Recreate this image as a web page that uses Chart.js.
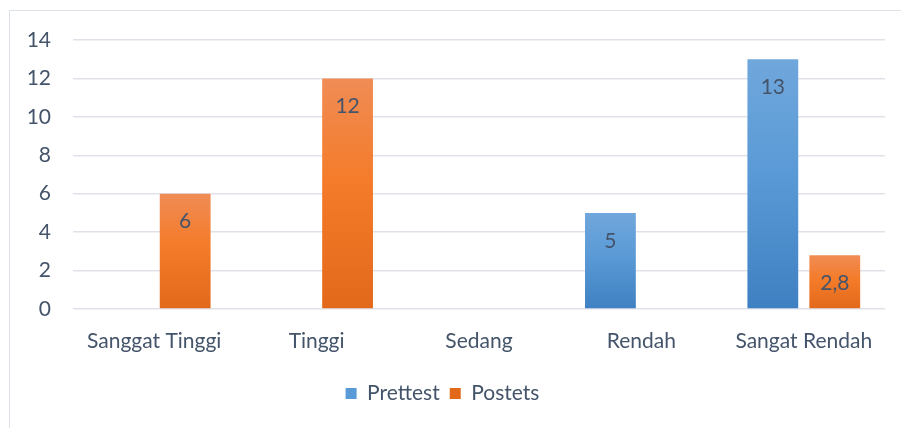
<!DOCTYPE html>
<html>
<head>
<meta charset="utf-8">
<script src="https://cdn.jsdelivr.net/npm/chart.js@4/dist/chart.umd.min.js"></script>
<style>
  body { margin: 0; background: #fff; }
  #wrap { position: relative; width: 901px; height: 428px; overflow: hidden; }
  #frame { position: absolute; left: 9px; top: 10px; width: 900px; height: 430px; border: 1px solid #dde2e8; box-sizing: border-box; }
  #myChart { position: absolute; left: 0; top: 0; }
</style>
</head>
<body>
<div id="wrap">
  <div id="frame"></div>
  <canvas id="myChart" width="901" height="428"></canvas>
</div>
<script>
var categories = ['Sanggat Tinggi', 'Tinggi', 'Sedang', 'Rendah', 'Sangat Rendah'];
var prettest = [0, 0, 0, 5, 13];
var postets = [6, 12, 0, 0, 2.8];
var yTicks = [0, 2, 4, 6, 8, 10, 12, 14];

var textColor = '#44546a';
var fontFamily = 'Lato, "Open Sans", sans-serif';
var fontSize = 21;

function barGradient(stops) {
    return function (context) {
        var chart = context.chart;
        var area = chart.chartArea;
        if (!area || context.type !== 'data') return stops[1];
        var v = context.raw || 0;
        var yScale = chart.scales.y;
        var top = yScale.getPixelForValue(v);
        var bottom = yScale.getPixelForValue(0);
        if (bottom - top < 1) return stops[1];
        var g = chart.ctx.createLinearGradient(0, top, 0, bottom);
        g.addColorStop(0, stops[0]);
        g.addColorStop(0.45, stops[1]);
        g.addColorStop(1, stops[2]);
        return g;
    };
}

// labels inside the top of each bar, like Excel
var barLabels = {
    id: 'barLabels',
    afterDatasetsDraw: function (chart) {
        var ctx = chart.ctx;
        ctx.save();
        ctx.font = fontSize + 'px ' + fontFamily;
        ctx.fillStyle = textColor;
        ctx.textAlign = 'center';
        ctx.textBaseline = 'middle';
        chart.data.datasets.forEach(function (ds, i) {
            var meta = chart.getDatasetMeta(i);
            meta.data.forEach(function (bar, j) {
                var v = ds.data[j];
                if (!v) return;
                ctx.fillText(String(v).replace('.', ','), bar.x, bar.y + 28);
            });
        });
        ctx.restore();
    }
};

const ctx = document.getElementById('myChart');

new Chart(ctx, {
    type: 'bar',
    data: {
        labels: categories,
        datasets: [{
            label: 'Prettest',
            data: prettest,
            backgroundColor: barGradient(['#70a7dc', '#5a9ad6', '#3f80c2']),
            borderWidth: 0
        }, {
            label: 'Postets',
            data: postets,
            backgroundColor: barGradient(['#f08c55', '#f47b29', '#e2691a']),
            borderWidth: 0
        }]
    },
    options: {
        responsive: false,
        animation: false,
        categoryPercentage: 0.763,
        barPercentage: 0.82,
        layout: { padding: { left: 0, right: 16, top: 40, bottom: 14 } },
        scales: {
            x: {
                grid: { display: false },
                border: { display: false },
                ticks: { color: textColor, font: { family: fontFamily, size: fontSize }, padding: 12, maxRotation: 0 },
                afterFit: function (scale) { scale.height = 64; }
            },
            y: {
                min: 0,
                max: 14,
                afterBuildTicks: function (scale) {
                    scale.ticks = yTicks.map(function (v) { return { value: v }; });
                },
                grid: { color: '#dfe3e9', lineWidth: 1.5, drawTicks: false },
                border: { display: false },
                ticks: { color: textColor, font: { family: fontFamily, size: fontSize }, padding: 22 },
                afterFit: function (scale) { scale.width = 73; }
            }
        },
        plugins: {
            legend: {
                position: 'bottom',
                labels: {
                    color: textColor,
                    font: { family: fontFamily, size: fontSize },
                    boxWidth: 11,
                    boxHeight: 11,
                    padding: 10
                }
            },
            tooltip: { enabled: false }
        }
    },
    plugins: [barLabels]
});
</script>
</body>
</html>
